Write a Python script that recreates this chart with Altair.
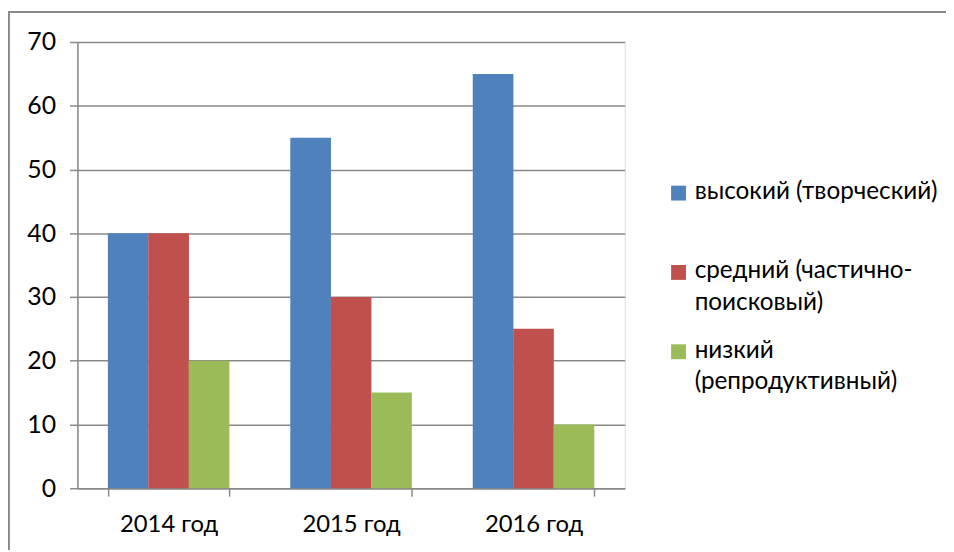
import altair as alt
import pandas as pd

years = ["2014 год", "2015 год", "2016 год"]
levels = ["высокий (творческий)", "средний (частично-поисковый)", "низкий (репродуктивный)"]
level_lines = [["высокий (творческий)", " "], ["средний (частично-", "поисковый)"], ["низкий", "(репродуктивный)"]]
values = {
    "высокий (творческий)": [40, 55, 65],
    "средний (частично-поисковый)": [40, 30, 25],
    "низкий (репродуктивный)": [20, 15, 10],
}
colors = ["#4F81BD", "#C0504D", "#9BBB59"]
y_ticks = [0, 10, 20, 30, 40, 50, 60, 70]

rows = []
for lv in levels:
    for yr, v in zip(years, values[lv]):
        rows.append({"year": yr, "level": lv, "value": v})
df = pd.DataFrame(rows)

FONT = "Lato"
FS = 25
XFS = 24
LFS = 24.5
GRID = "#898989"

W, H = 552, 450
PL, PT = 70, 32

parts = []
for lv, lines in zip(levels, level_lines):
    arr = "[" + ",".join("'" + s + "'" for s in lines) + "]"
    parts.append(f"datum.label == '{lv}' ? {arr}")
label_expr = " : ".join(parts) + " : datum.label"

# square legend symbol, shifted down to sit beside the first label line
square_down = "M-1,0.75 L1,0.75 L1,2.75 L-1,2.75 Z"

bars = alt.Chart(df).mark_bar(size=41).encode(
    x=alt.X("year:N", sort=years, title=None,
            scale=alt.Scale(paddingInner=0.335, paddingOuter=0.1675),
            axis=alt.Axis(labelAngle=0, labelFont=FONT, labelFontSize=XFS, labelColor="#000",
                          labelPadding=17, domainColor=GRID, domainWidth=1.5,
                          tickColor=GRID, tickWidth=1.5, tickSize=8, tickBand="extent",
                          grid=False)),
    xOffset=alt.XOffset("level:N", sort=levels, scale=alt.Scale(paddingInner=0, paddingOuter=0)),
    y=alt.Y("value:Q", title=None,
            scale=alt.Scale(domain=[0, 70], nice=False),
            axis=alt.Axis(values=y_ticks, labelFont=FONT, labelFontSize=FS, labelColor="#000",
                          labelPadding=14, domainColor=GRID, domainWidth=1.5,
                          tickColor=GRID, tickWidth=1.5, tickSize=8,
                          gridColor=GRID, gridWidth=1.5)),
    color=alt.Color("level:N", sort=levels, title=None,
                    scale=alt.Scale(domain=levels, range=colors),
                    legend=alt.Legend(orient="none", legendX=594, legendY=127,
                                      symbolType=square_down, symbolSize=225, symbolStrokeWidth=0,
                                      labelFont=FONT, labelFontSize=LFS, labelColor="#000",
                                      labelOffset=4, labelLimit=400,
                                      labelExpr=label_expr, rowPadding=12,
                                      labelBaseline="top")),
)

border_v = alt.Chart(df).mark_rule(color=GRID, strokeWidth=1.5).encode(
    x=alt.value(-69.5), y=alt.value(-30.5), y2=alt.value(520))
border_h = alt.Chart(df).mark_rule(color=GRID, strokeWidth=1.5).encode(
    x=alt.value(-69.5), x2=alt.value(876), y=alt.value(-30.5))

chart = alt.layer(bars, border_v, border_h).properties(
    width=W, height=H,
    autosize=alt.AutoSizeParams(type="none"),
    padding={"left": PL, "top": PT, "right": 946 - W - PL, "bottom": 542 - H - PT},
).configure_view(stroke=None).configure(
    background="white",
    style={"guide-label": {"lineHeight": 32}},
)

chart.save("out.html", embed_options={"renderer": "svg", "actions": False})
